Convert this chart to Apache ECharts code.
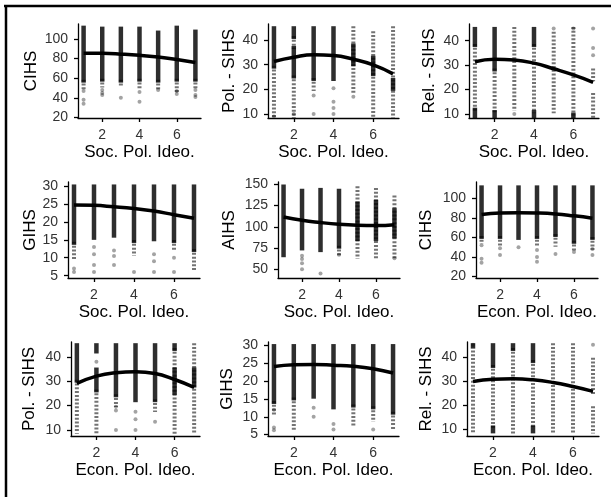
<!DOCTYPE html>
<html>
<head>
<meta charset="utf-8">
<script src="https://cdn.jsdelivr.net/npm/echarts@6/dist/echarts.min.js"></script>
<style>
  html, body { margin: 0; padding: 0; background: #fff; }
  #chart { width: 611px; height: 497px; }
</style>
</head>
<body>
<div id="chart"></div>
<script>
// x positions of the answer scale, tick labels
const xVals = [1, 2, 3, 4, 5, 6, 7];
const xTicks = [2, 4, 6];
const cihsTicks = [20, 40, 60, 80, 100];
const sihsTicks = [10, 20, 30, 40];
const gihsTicks = [5, 10, 15, 20, 25, 30];
const aihsTicks = [50, 75, 100, 125, 150];

// each panel: dense stretches [x, lo, hi], thinner stretches [x, lo, hi], lone points [x, y], fit at x=1..7
const cihsSocDark = [[1,57,112],[2,58,111],[3,57,111],[4,58,111],[5,57,107],[6,58,112],[7,58,108]];
const cihsSocLight = [[1,50,57],[2,52,58],[3,54,57],[4,51,58],[5,50,57],[6,46,58],[7,50,58]];
const cihsSocPts = [[1,47],[1,38],[1,34],[2,48],[2,45],[2,43],[3,40],[4,46],[4,36],[5,48],[6,44],[6,47],[7,48],[7,43],[7,41]];
const cihsSocFit = [85.5, 85.3, 84.5, 83.3, 81.5, 79, 76];

const polSocDark = [[1,29,45],[2,25,37],[2,41,45],[3,24,45],[4,24,45],[5,30,38],[6,26,33],[7,20,24]];
const polSocLight = [[1,9,29],[2,9,25],[2,37,41],[3,20,24],[5,19,45],[6,9,43],[7,9,45]];
const polSocPts = [[3,17.5],[3,10],[4,20.5],[4,15],[4,12.5],[4,10],[2,10],[5,17],[1,9]];
const polSocFit = [31.3, 33, 34, 33.7, 32.2, 29.9, 26.3];

const relSocDark = [[1,38,45],[1,9,12],[2,28,45],[2,9,11],[4,38,45],[4,9,11],[6,9,10]];
const relSocLight = [[1,12,38],[2,11,28],[3,12,45],[4,11,38],[5,11,43],[6,10,45],[7,9,18],[7,24,28]];
const relSocPts = [[7,45],[7,37],[7,34],[3,10],[5,45],[6,45]];
const relSocFit = [31.4, 32.4, 32.1, 30.8, 28.5, 26, 23];
const relSocLow = [30.6, 31.9, 31.6, 30.2, 27.8, 25, 21.5];
const relSocHigh = [32.2, 32.9, 32.6, 31.4, 29.2, 27, 24.5];

const gihsSocDark = [[1,14,30],[2,15.4,30],[3,16,30],[4,14.5,30],[5,15,30],[6,14.5,30],[7,12,30]];
const gihsSocLight = [[1,10,14],[4,11,14.5],[6,12.5,14.5],[7,7,12]];
const gihsSocPts = [[1,7],[1,6],[2,13],[2,11],[2,8],[2,6],[3,12],[3,10.5],[3,8],[4,6],[5,11],[5,9],[5,6],[6,10],[6,6]];
const gihsSocFit = [24.7, 24.6, 24.2, 23.7, 23, 22, 21];

const aihsSocDark = [[1,66,148],[2,74,143],[3,72,144],[4,76,143],[5,85,128],[6,85,130],[7,88,120]];
const aihsSocLight = [[5,64,146],[6,64,144],[7,63,135],[4,67,76]];
const aihsSocPts = [[2,66],[2,62],[2,57],[2,50],[3,45],[4,67],[7,63]];
const aihsSocFit = [111.6, 107.6, 105, 103, 101.8, 101.4, 102.5];

const cihsEcoDark = [[1,60,112],[2,60,112],[3,59,112],[4,60,112],[5,62,112],[6,55,112],[7,59,112]];
const cihsEcoLight = [[1,55,60],[2,53,60],[4,53,60],[5,52,62],[6,48,55],[7,49,59]];
const cihsEcoPts = [[1,52],[1,38],[1,34],[2,49],[2,42],[3,50],[4,47],[4,40],[4,35],[5,43],[6,45],[7,42],[7,48]];
const cihsEcoFit = [83.6, 85.2, 85.5, 85.2, 84.2, 82.2, 79.8];

const polEcoDark = [[1,30,45],[2,42,45],[2,26,35],[3,24,45],[4,22,45],[5,22,45],[6,43,45],[6,25,35],[7,28,35]];
const polEcoLight = [[1,9,30],[2,9,26],[3,20,24],[6,9,43],[7,9,45],[5,18,22]];
const polEcoPts = [[3,19.5],[3,18],[3,10],[4,17.5],[4,14.4],[4,10],[5,13.4],[2,38]];
const polEcoFit = [29.1, 32.1, 33.5, 33.9, 33.2, 30.7, 27.5];

const gihsEcoDark = [[1,14,30],[2,15,30],[3,15.5,30],[4,12.5,30],[5,13,30],[6,12.5,30],[7,11,30]];
const gihsEcoLight = [[1,11,14],[2,6.5,15],[5,8,13],[6,9,12.5],[7,7,11]];
const gihsEcoPts = [[1,12],[1,7],[1,6.2],[3,12.5],[3,10],[4,8],[4,6.4],[6,6.4]];
const gihsEcoFit = [24.1, 24.6, 24.7, 24.5, 24.2, 23.5, 22.3];

const relEcoDark = [[1,44,45],[2,36,45],[2,9,11],[4,38,45],[4,9,11],[3,43,45]];
const relEcoLight = [[1,9,42],[2,11,36],[3,9,43],[4,11,38],[5,9,45],[6,9,45],[7,25,39],[7,9,19]];
const relEcoPts = [[7,45],[1,45]];
const relEcoFit = [29.8, 30.7, 30.9, 30.5, 29.4, 27.7, 25.7];
const relEcoLow = [28.8, 30.2, 30.5, 30.0, 28.9, 27.0, 24.5];
const relEcoHigh = [30.8, 31.2, 31.3, 31.0, 29.9, 28.4, 26.9];

const SOC = 'Soc. Pol. Ideo.';
const ECO = 'Econ. Pol. Ideo.';
const FONT = '"Liberation Sans", Arial, sans-serif';

const panels = [
  { y: 'CIHS', x: SOC, ymin: 19.5, ymax: 115.2, ticks: cihsTicks, dark: cihsSocDark, light: cihsSocLight, pts: cihsSocPts, fit: cihsSocFit, box: [78, 24, 123, 94], gap: 38 },
  { y: 'Pol. - SIHS', x: SOC, ymin: 8.4, ymax: 46.5, ticks: sihsTicks, dark: polSocDark, light: polSocLight, pts: polSocPts, fit: polSocFit, box: [268, 24, 131, 94], gap: 30 },
  { y: 'Rel. - SIHS', x: SOC, ymin: 8.4, ymax: 46.8, ticks: sihsTicks, dark: relSocDark, light: relSocLight, pts: relSocPts, fit: relSocFit, low: relSocLow, high: relSocHigh, box: [469, 24, 130, 94], gap: 31 },
  { y: 'GIHS', x: SOC, ymin: 4.35, ymax: 31.1, ticks: gihsTicks, dark: gihsSocDark, light: gihsSocLight, pts: gihsSocPts, fit: gihsSocFit, box: [68, 182, 132, 96], gap: 28 },
  { y: 'AIHS', x: SOC, ymin: 39.8, ymax: 152.7, ticks: aihsTicks, dark: aihsSocDark, light: aihsSocLight, pts: aihsSocPts, fit: aihsSocFit, box: [278, 182, 122, 96], gap: 40 },
  { y: 'CIHS', x: ECO, ymin: 18.3, ymax: 117, ticks: cihsTicks, dark: cihsEcoDark, light: cihsEcoLight, pts: cihsEcoPts, fit: cihsEcoFit, box: [476, 182, 122, 96], gap: 41 },
  { y: 'Pol. - SIHS', x: ECO, ymin: 7.5, ymax: 46.1, ticks: sihsTicks, dark: polEcoDark, light: polEcoLight, pts: polEcoPts, fit: polEcoFit, box: [71, 342, 129, 94], gap: 33 },
  { y: 'GIHS', x: ECO, ymin: 4.6, ymax: 31, ticks: gihsTicks, dark: gihsEcoDark, light: gihsEcoLight, pts: gihsEcoPts, fit: gihsEcoFit, box: [268, 342, 131, 94], gap: 32 },
  { y: 'Rel. - SIHS', x: ECO, ymin: 7.3, ymax: 46.1, ticks: sihsTicks, dark: relEcoDark, light: relEcoLight, pts: relEcoPts, fit: relEcoFit, low: relEcoLow, high: relEcoHigh, box: [467, 342, 132, 94], gap: 32 }
];

function segSeries(i, data, dark) {
  return {
    type: 'custom',
    xAxisIndex: i,
    yAxisIndex: i,
    data: data,
    encode: { x: 0, y: [1, 2] },
    silent: true,
    renderItem: function (params, api) {
      const a = api.coord([api.value(0), api.value(2)]);
      const b = api.coord([api.value(0), api.value(1)]);
      return {
        type: 'line',
        shape: { x1: a[0], y1: a[1] - 1.5, x2: b[0], y2: b[1] + 1.5 },
        style: dark
          ? { stroke: 'rgba(0,0,0,0.82)', lineWidth: 4.5 }
          : { stroke: 'rgba(0,0,0,0.55)', lineWidth: 4, lineDash: [2, 1.8] }
      };
    }
  };
}

const grids = [], xAxes = [], yAxes = [], series = [];

panels.forEach(function (p, i) {
  grids.push({ left: p.box[0], top: p.box[1], width: p.box[2], height: p.box[3], outerBoundsMode: 'none' });
  const lineStyle = { color: '#000', width: 1.3 };
  xAxes.push({
    gridIndex: i, type: 'value', min: 0.7, max: 7.3,
    name: p.x, nameLocation: 'middle', nameGap: 26,
    nameTextStyle: { fontSize: 17, color: '#000', fontFamily: FONT },
    axisLine: { onZero: false, lineStyle: lineStyle },
    axisTick: { length: 4, customValues: xTicks, lineStyle: lineStyle },
    axisLabel: { customValues: xTicks, fontSize: 14, color: '#333', margin: 10, fontFamily: FONT },
    splitLine: { show: false }
  });
  yAxes.push({
    gridIndex: i, type: 'value', min: p.ymin, max: p.ymax,
    name: p.y, nameLocation: 'middle', nameGap: p.gap,
    nameTextStyle: { fontSize: 17, color: '#000', fontFamily: FONT },
    axisLine: { onZero: false, lineStyle: lineStyle },
    axisTick: { length: 4, customValues: p.ticks, lineStyle: lineStyle },
    axisLabel: { customValues: p.ticks, fontSize: 14, color: '#333', margin: 10, fontFamily: FONT },
    splitLine: { show: false }
  });
  series.push(segSeries(i, p.light, false));
  series.push(segSeries(i, p.dark, true));
  series.push({
    type: 'scatter', xAxisIndex: i, yAxisIndex: i, data: p.pts,
    symbolSize: 4, itemStyle: { color: 'rgba(0,0,0,0.45)' }, silent: true
  });
  if (p.low) {
    series.push({
      type: 'line', xAxisIndex: i, yAxisIndex: i, stack: 'band' + i, smooth: true,
      data: xVals.map(function (x, k) { return [x, p.low[k]]; }),
      symbol: 'none', lineStyle: { opacity: 0 }, silent: true
    });
    series.push({
      type: 'line', xAxisIndex: i, yAxisIndex: i, stack: 'band' + i, smooth: true,
      data: xVals.map(function (x, k) { return [x, p.high[k] - p.low[k]]; }),
      symbol: 'none', lineStyle: { opacity: 0 }, areaStyle: { color: 'rgba(0,0,0,0.28)' }, silent: true
    });
  }
  series.push({
    type: 'line', xAxisIndex: i, yAxisIndex: i, smooth: true,
    data: xVals.map(function (x, k) { return [x, p.fit[k]]; }),
    symbol: 'none', lineStyle: { color: '#000', width: 3.5 }, silent: true, z: 5
  });
});

const chart = echarts.init(document.getElementById('chart'));
chart.setOption({
  animation: false,
  backgroundColor: '#fff',
  grid: grids,
  xAxis: xAxes,
  yAxis: yAxes,
  series: series,
  graphic: [
    { type: 'line', shape: { x1: 4, y1: 6, x2: 611, y2: 6 }, style: { stroke: '#000', lineWidth: 2.5 } },
    { type: 'line', shape: { x1: 6, y1: 5, x2: 6, y2: 497 }, style: { stroke: '#000', lineWidth: 2.5 } }
  ]
});
</script>
</body>
</html>
